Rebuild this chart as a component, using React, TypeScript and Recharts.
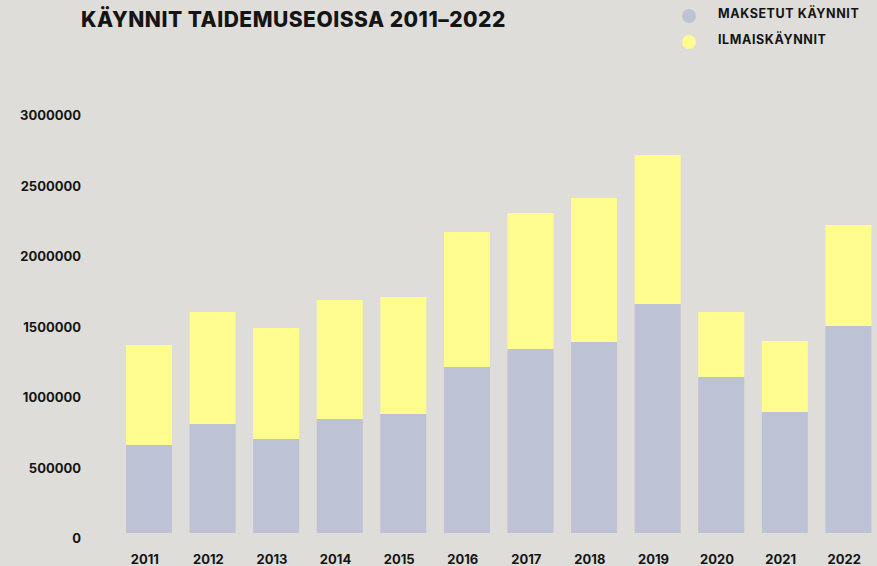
import { BarChart, Bar, XAxis, YAxis } from "recharts";

const years = ["2011", "2012", "2013", "2014", "2015", "2016", "2017", "2018", "2019", "2020", "2021", "2022"];
const paidVisits = [624000, 773000, 667000, 809000, 844000, 1177000, 1305000, 1355000, 1624000, 1106000, 858000, 1468000];
const freeVisits = [709000, 794000, 787000, 843000, 830000, 958000, 965000, 1021000, 1057000, 461000, 504000, 716000];
const yTicks = [0, 500000, 1000000, 1500000, 2000000, 2500000, 3000000];

const PAID = "#BDC2D4";
const FREE = "#FFFC8F";
const BG = "#DEDDD9";
const INK = "#141414";
const FONT = "Inter, 'Open Sans', sans-serif";

const legendItems = [
  { label: "MAKSETUT KÄYNNIT", color: PAID },
  { label: "ILMAISKÄYNNIT", color: FREE },
];

const data = years.map((year, i) => ({
  year,
  paid: paidVisits[i],
  free: freeVisits[i],
}));

const YTick = ({ y, payload }: any) => (
  <text x={81} y={y + 10} textAnchor="end" fill={INK} fontSize={13} fontWeight={700} fontFamily={FONT}>
    {payload.value}
  </text>
);

const XTick = ({ x, payload }: any) => (
  <text x={x - 4} y={564} textAnchor="middle" fill={INK} fontSize={13} fontWeight={700} fontFamily={FONT}>
    {payload.value}
  </text>
);

const LegendBox = () => (
  <div style={{ position: "absolute", left: 682, top: 9, fontFamily: FONT, fontWeight: 700, fontSize: 12.5, color: INK, letterSpacing: 0.6 }}>
    {legendItems.map((item) => (
      <div key={item.label} style={{ display: "flex", alignItems: "center", height: 14, marginBottom: 12 }}>
        <span style={{ width: 14, height: 14, borderRadius: 7, background: item.color, display: "inline-block", flex: "none" }} />
        <span style={{ marginLeft: 22, lineHeight: "14px", marginTop: -5, whiteSpace: "nowrap" }}>{item.label}</span>
      </div>
    ))}
  </div>
);

export default function App() {
  return (
    <div style={{ position: "fixed", left: 0, top: 0, width: 877, height: 566, overflow: "hidden", background: BG }}>
      <div
        style={{
          position: "absolute", left: 81, top: 7, fontFamily: FONT, fontWeight: 800,
          fontSize: 21, color: INK, whiteSpace: "nowrap", letterSpacing: 0.5,
        }}
      >
        KÄYNNIT TAIDEMUSEOISSA 2011–2022
      </div>
      <LegendBox />
      <BarChart width={877} height={566} data={data} margin={{ top: 110, right: -3, left: 0, bottom: 0 }}>
        <XAxis dataKey="year" height={33} axisLine={false} tickLine={false} tick={<XTick />} interval={0} />
        <YAxis
          type="number"
          domain={[0, 3000000]}
          ticks={yTicks}
          width={117}
          axisLine={false}
          tickLine={false}
          tick={<YTick />}
          interval={0}
        />
        <Bar dataKey="paid" stackId="a" fill={PAID} barSize={46} isAnimationActive={false} />
        <Bar dataKey="free" stackId="a" fill={FREE} barSize={46} isAnimationActive={false} />
      </BarChart>
    </div>
  );
}
